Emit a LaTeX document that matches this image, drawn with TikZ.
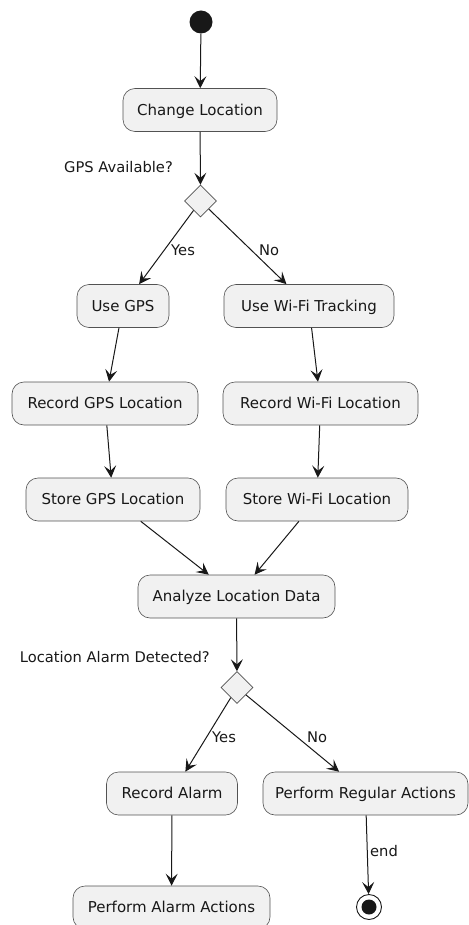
\documentclass[tikz,border=0pt]{standalone}
\usepackage{fontspec}
\setmainfont{DejaVu Sans}
\usetikzlibrary{shapes.geometric,arrows.meta}
\definecolor{boxfill}{HTML}{F1F1F1}
\definecolor{ink}{HTML}{181818}

\begin{document}
\begin{tikzpicture}[x=1pt,y=-1pt,
  act/.style={draw=ink!75, fill=boxfill, rounded corners=12pt, line width=0.6pt,
    minimum height=43pt, inner xsep=0pt, text height=10.8pt, text depth=0pt,
    font=\fontsize{15}{17}\selectfont, text=ink},
  dec/.style={diamond, draw=ink!75, fill=boxfill, line width=0.6pt,
    minimum width=32pt, minimum height=32pt, inner sep=0pt},
  flow/.style={draw=ink, line width=1pt, -{Stealth[length=12pt,width=12pt,inset=5pt]}},
  lbl/.style={font=\fontsize{14.7}{16}\selectfont, text=ink, inner sep=0pt},
]
\useasboundingbox (0,0) rectangle (468,925);

% start and end markers
\node[circle, fill=ink, minimum size=23pt, inner sep=0pt] (start) at (201,22) {};
\node[circle, draw=ink, line width=0.9pt, fill=white, minimum size=25pt, inner sep=0pt] (stop) at (369,907) {};
\node[circle, fill=ink, minimum size=15pt, inner sep=0pt] at (stop) {};

% actions
\node[act, minimum width=154pt] (chg)    at (200,110)   {Change Location};
\node[dec] (d1) at (200.5,201) {};
\node[act, minimum width=92pt]  (gps)    at (123,306)   {Use GPS};
\node[act, minimum width=170pt] (wifi)   at (309,306)   {Use Wi-Fi Tracking};
\node[act, minimum width=186pt] (rgps)   at (105,403.5) {Record GPS Location};
\node[act, minimum width=195pt] (rwifi)  at (320.5,403.5) {Record Wi-Fi Location};
\node[act, minimum width=174pt] (sgps)   at (113,499.5) {Store GPS Location};
\node[act, minimum width=182pt] (swifi)  at (317,499.5) {Store Wi-Fi Location};
\node[act, minimum width=197pt] (ana)    at (236.5,596.5) {Analyze Location Data};
\node[dec] (d2) at (237,687.5) {};
\node[act, minimum width=131pt] (ralarm) at (172,793.5) {Record Alarm};
\node[act, minimum width=205pt] (preg)   at (365.5,793.5) {Perform Regular Actions};
\node[act, minimum width=197pt] (palarm) at (171.5,907.5) {Perform Alarm Actions};

% decision captions
\node[lbl, anchor=east] (q1) at (173,167) {GPS Available?};
\node[lbl, anchor=east] (q2) at (210,657.5) {Location Alarm Detected?};

% connectors
\draw[flow] (start) -- (chg);
\draw[flow] (chg) -- (d1);
\draw[flow] (d1) -- (gps);
\draw[flow] (d1) -- (wifi);
\draw[flow] (gps) -- (rgps);
\draw[flow] (wifi) -- (rwifi);
\draw[flow] (rgps) -- (sgps);
\draw[flow] (rwifi) -- (swifi);
\draw[flow] (sgps) -- (ana);
\draw[flow] (swifi) -- (ana);
\draw[flow] (ana) -- (d2);
\draw[flow] (d2) -- (ralarm);
\draw[flow] (d2) -- (preg);
\draw[flow] (ralarm) -- (palarm);
\draw[flow] (preg) -- (stop);

% branch labels
\node[lbl, anchor=west] (y1) at (171,250) {Yes};
\node[lbl, anchor=west] (n1) at (259,250) {No};
\node[lbl, anchor=west] (y2) at (212,737.5) {Yes};
\node[lbl, anchor=west] (n2) at (307,737.5) {No};
\node[lbl, anchor=west] (e1) at (370,851) {end};
\end{tikzpicture}
\end{document}
